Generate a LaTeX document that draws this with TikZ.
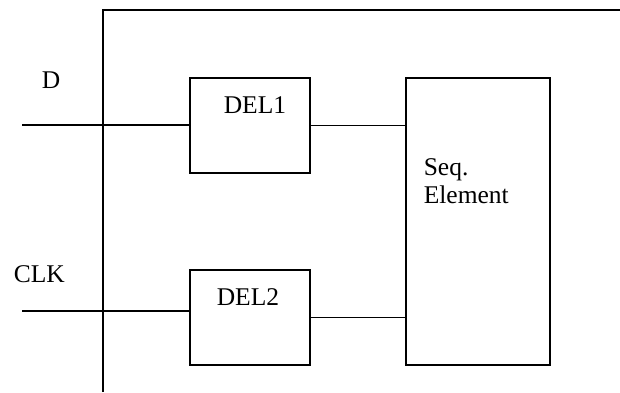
\documentclass[tikz,border=0pt]{standalone}
\usepackage{fontspec}
\setmainfont{Liberation Serif}
\begin{document}
\begin{tikzpicture}[x=1pt,y=-1pt,
  line width=1.6pt,
  blk/.style={draw,line width=1.6pt,inner sep=0pt,anchor=north west},
  lbl/.style={inner sep=0pt,anchor=base west,font=\fontsize{25.5}{28}\selectfont}]
\useasboundingbox (0,0) rectangle (620,392);
% enclosing box
\draw (103,392) -- (103,10) -- (621,10);
% blocks
\node[blk,minimum width=120pt,minimum height=95pt] (del1) at (189,77) {};
\node[blk,minimum width=120pt,minimum height=95pt] (del2) at (189,269) {};
\node[blk,minimum width=144pt,minimum height=287pt] (seq) at (405,77) {};
% labels
\node[lbl] (tdel1) at (223,113) {DEL1};
\node[lbl] (tdel2) at (216,305) {DEL2};
\node[lbl] (tseq) at (423,175) {Seq.};
\node[lbl] (telem) at (423,203) {Element};
\node[lbl] (td) at (41,88) {D};
\node[lbl] (tclk) at (13,282) {CLK};
% connectors
\coordinate (din) at (22,125);
\coordinate (clkin) at (22,311);
\draw (din) -- (din -| del1.west);
\draw (clkin) -- (clkin -| del2.west);
\draw (del1.east) -- (del1.east -| seq.west);
\draw (del2.east) -- (del2.east -| seq.west);
\end{tikzpicture}
\end{document}
